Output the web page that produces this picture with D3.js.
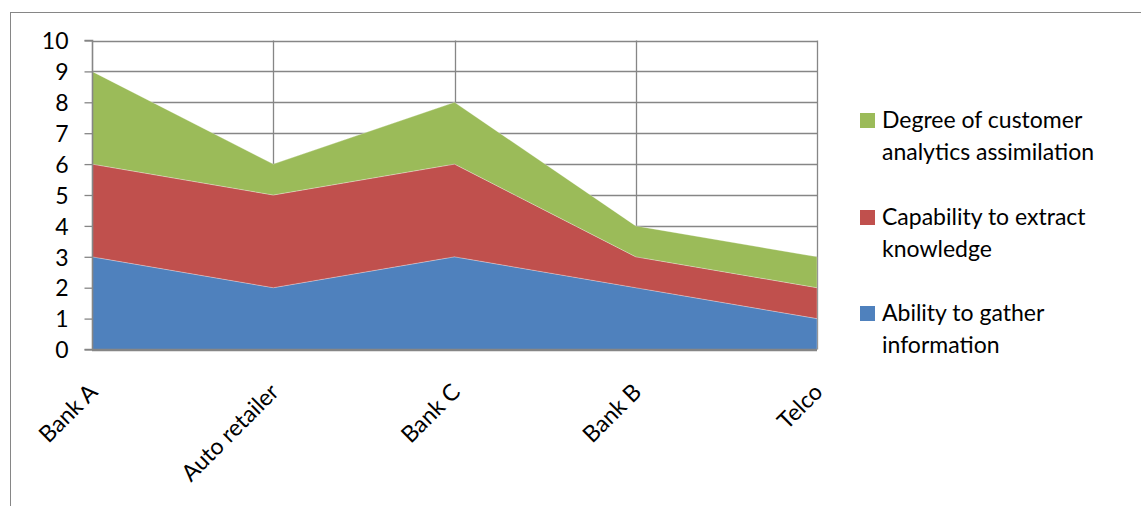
<!DOCTYPE html>
<html>
<head>
<meta charset="utf-8">
<script src="https://cdn.jsdelivr.net/npm/d3@7"></script>
<style>
  html, body { margin: 0; padding: 0; background: #fff; }
  svg { display: block; }
  text { font-family: Lato, "Open Sans", sans-serif; fill: #000; }
</style>
</head>
<body>
<svg id="chart" width="1141" height="506"></svg>
<script>
// Companies compared along the x axis
const categories = ["Bank A", "Auto retailer", "Bank C", "Bank B", "Telco"];

// Stacked series (bottom to top)
const seriesNames = [
  "Ability to gather information",
  "Capability to extract knowledge",
  "Degree of customer analytics assimilation"
];
const abilityValues    = [3, 2, 3, 2, 1];
const capabilityValues = [3, 3, 3, 1, 1];
const degreeValues     = [3, 1, 2, 1, 1];

const yTicks = [0, 1, 2, 3, 4, 5, 6, 7, 8, 9, 10];

// Legend rows, top to bottom, each with its wrapped label lines
const legendLines = [
  ["Degree of customer", "analytics assimilation"],
  ["Capability to extract", "knowledge"],
  ["Ability to gather", "information"]
];

const colors = ["#4F81BD", "#C0504D", "#9BBB59"];
const gridColor = "#868686";
const fontSize = "23px";

const rows = categories.map((c, i) => ({
  cat: c,
  s0: abilityValues[i],
  s1: capabilityValues[i],
  s2: degreeValues[i]
}));

const svg = d3.select("#chart");

// outer chart frame
svg.append("rect")
  .attr("x", 10.5).attr("y", 12.5)
  .attr("width", 1200).attr("height", 600)
  .attr("fill", "none").attr("stroke", gridColor).attr("stroke-width", 1);

const plot = { left: 92, right: 817, top: 40.5, bottom: 349.5 };

const x = d3.scalePoint().domain(categories).range([plot.left, plot.right]);
const y = d3.scaleLinear().domain([0, 10]).range([plot.bottom, plot.top]);

// horizontal gridlines
svg.append("g").selectAll("line").data(yTicks).join("line")
  .attr("x1", plot.left).attr("x2", plot.right)
  .attr("y1", d => Math.round(y(d)) + 0.5).attr("y2", d => Math.round(y(d)) + 0.5)
  .attr("stroke", gridColor).attr("stroke-width", 1.3);

// vertical gridlines at each category
svg.append("g").selectAll("line").data(categories.slice(1)).join("line")
  .attr("x1", d => Math.round(x(d)) + 0.5).attr("x2", d => Math.round(x(d)) + 0.5)
  .attr("y1", plot.top).attr("y2", plot.bottom)
  .attr("stroke", gridColor).attr("stroke-width", 1.3);

// stacked areas
const stack = d3.stack().keys(["s0", "s1", "s2"]);
const layers = stack(rows);

const area = d3.area()
  .x(d => x(d.data.cat))
  .y0(d => y(d[0]))
  .y1(d => y(d[1]));

svg.append("g").selectAll("path").data(layers).join("path")
  .attr("d", area)
  .attr("fill", (d, i) => colors[i])
  .attr("stroke", "rgba(255,255,255,0.35)")
  .attr("stroke-width", 0.8);

// y axis with outward ticks
const yAxis = d3.axisLeft(y).tickValues(yTicks).tickSize(8).tickPadding(16)
  .tickFormat(d3.format("d"));
const yg = svg.append("g")
  .attr("transform", `translate(${plot.left + 0.5},0)`)
  .call(yAxis);
yg.select(".domain").attr("stroke", gridColor).attr("stroke-width", 1.6)
  .attr("d", `M-8,${plot.top}H0V${plot.bottom}H-8`);
yg.selectAll(".tick line").attr("stroke", gridColor).attr("stroke-width", 1.3);
yg.selectAll(".tick text")
  .style("font-size", fontSize)
  .style("font-family", "Lato, sans-serif")
  .attr("dy", "0.36em");

// bottom baseline
svg.append("line")
  .attr("x1", plot.left).attr("x2", plot.right)
  .attr("y1", plot.bottom).attr("y2", plot.bottom)
  .attr("stroke", gridColor).attr("stroke-width", 1.3);

// rotated category labels
svg.append("g").selectAll("text").data(categories).join("text")
  .attr("transform", d => `translate(${x(d) + 7},${plot.bottom + 44}) rotate(-45)`)
  .attr("text-anchor", "end")
  .style("font-size", fontSize)
  .text(d => d);

// legend
const legendTop = [113, 210, 306];
const legend = svg.append("g");
legendLines.forEach((lines, i) => {
  const colorIndex = 2 - i;
  legend.append("rect")
    .attr("x", 860).attr("y", legendTop[i])
    .attr("width", 15).attr("height", 15)
    .attr("fill", colors[colorIndex]);
  const t = legend.append("text")
    .attr("x", 882).attr("y", legendTop[i] + 15)
    .style("font-size", fontSize);
  lines.forEach((line, j) => {
    t.append("tspan").attr("x", 882).attr("dy", j === 0 ? 0 : 31.5).text(line);
  });
});
</script>
</body>
</html>
